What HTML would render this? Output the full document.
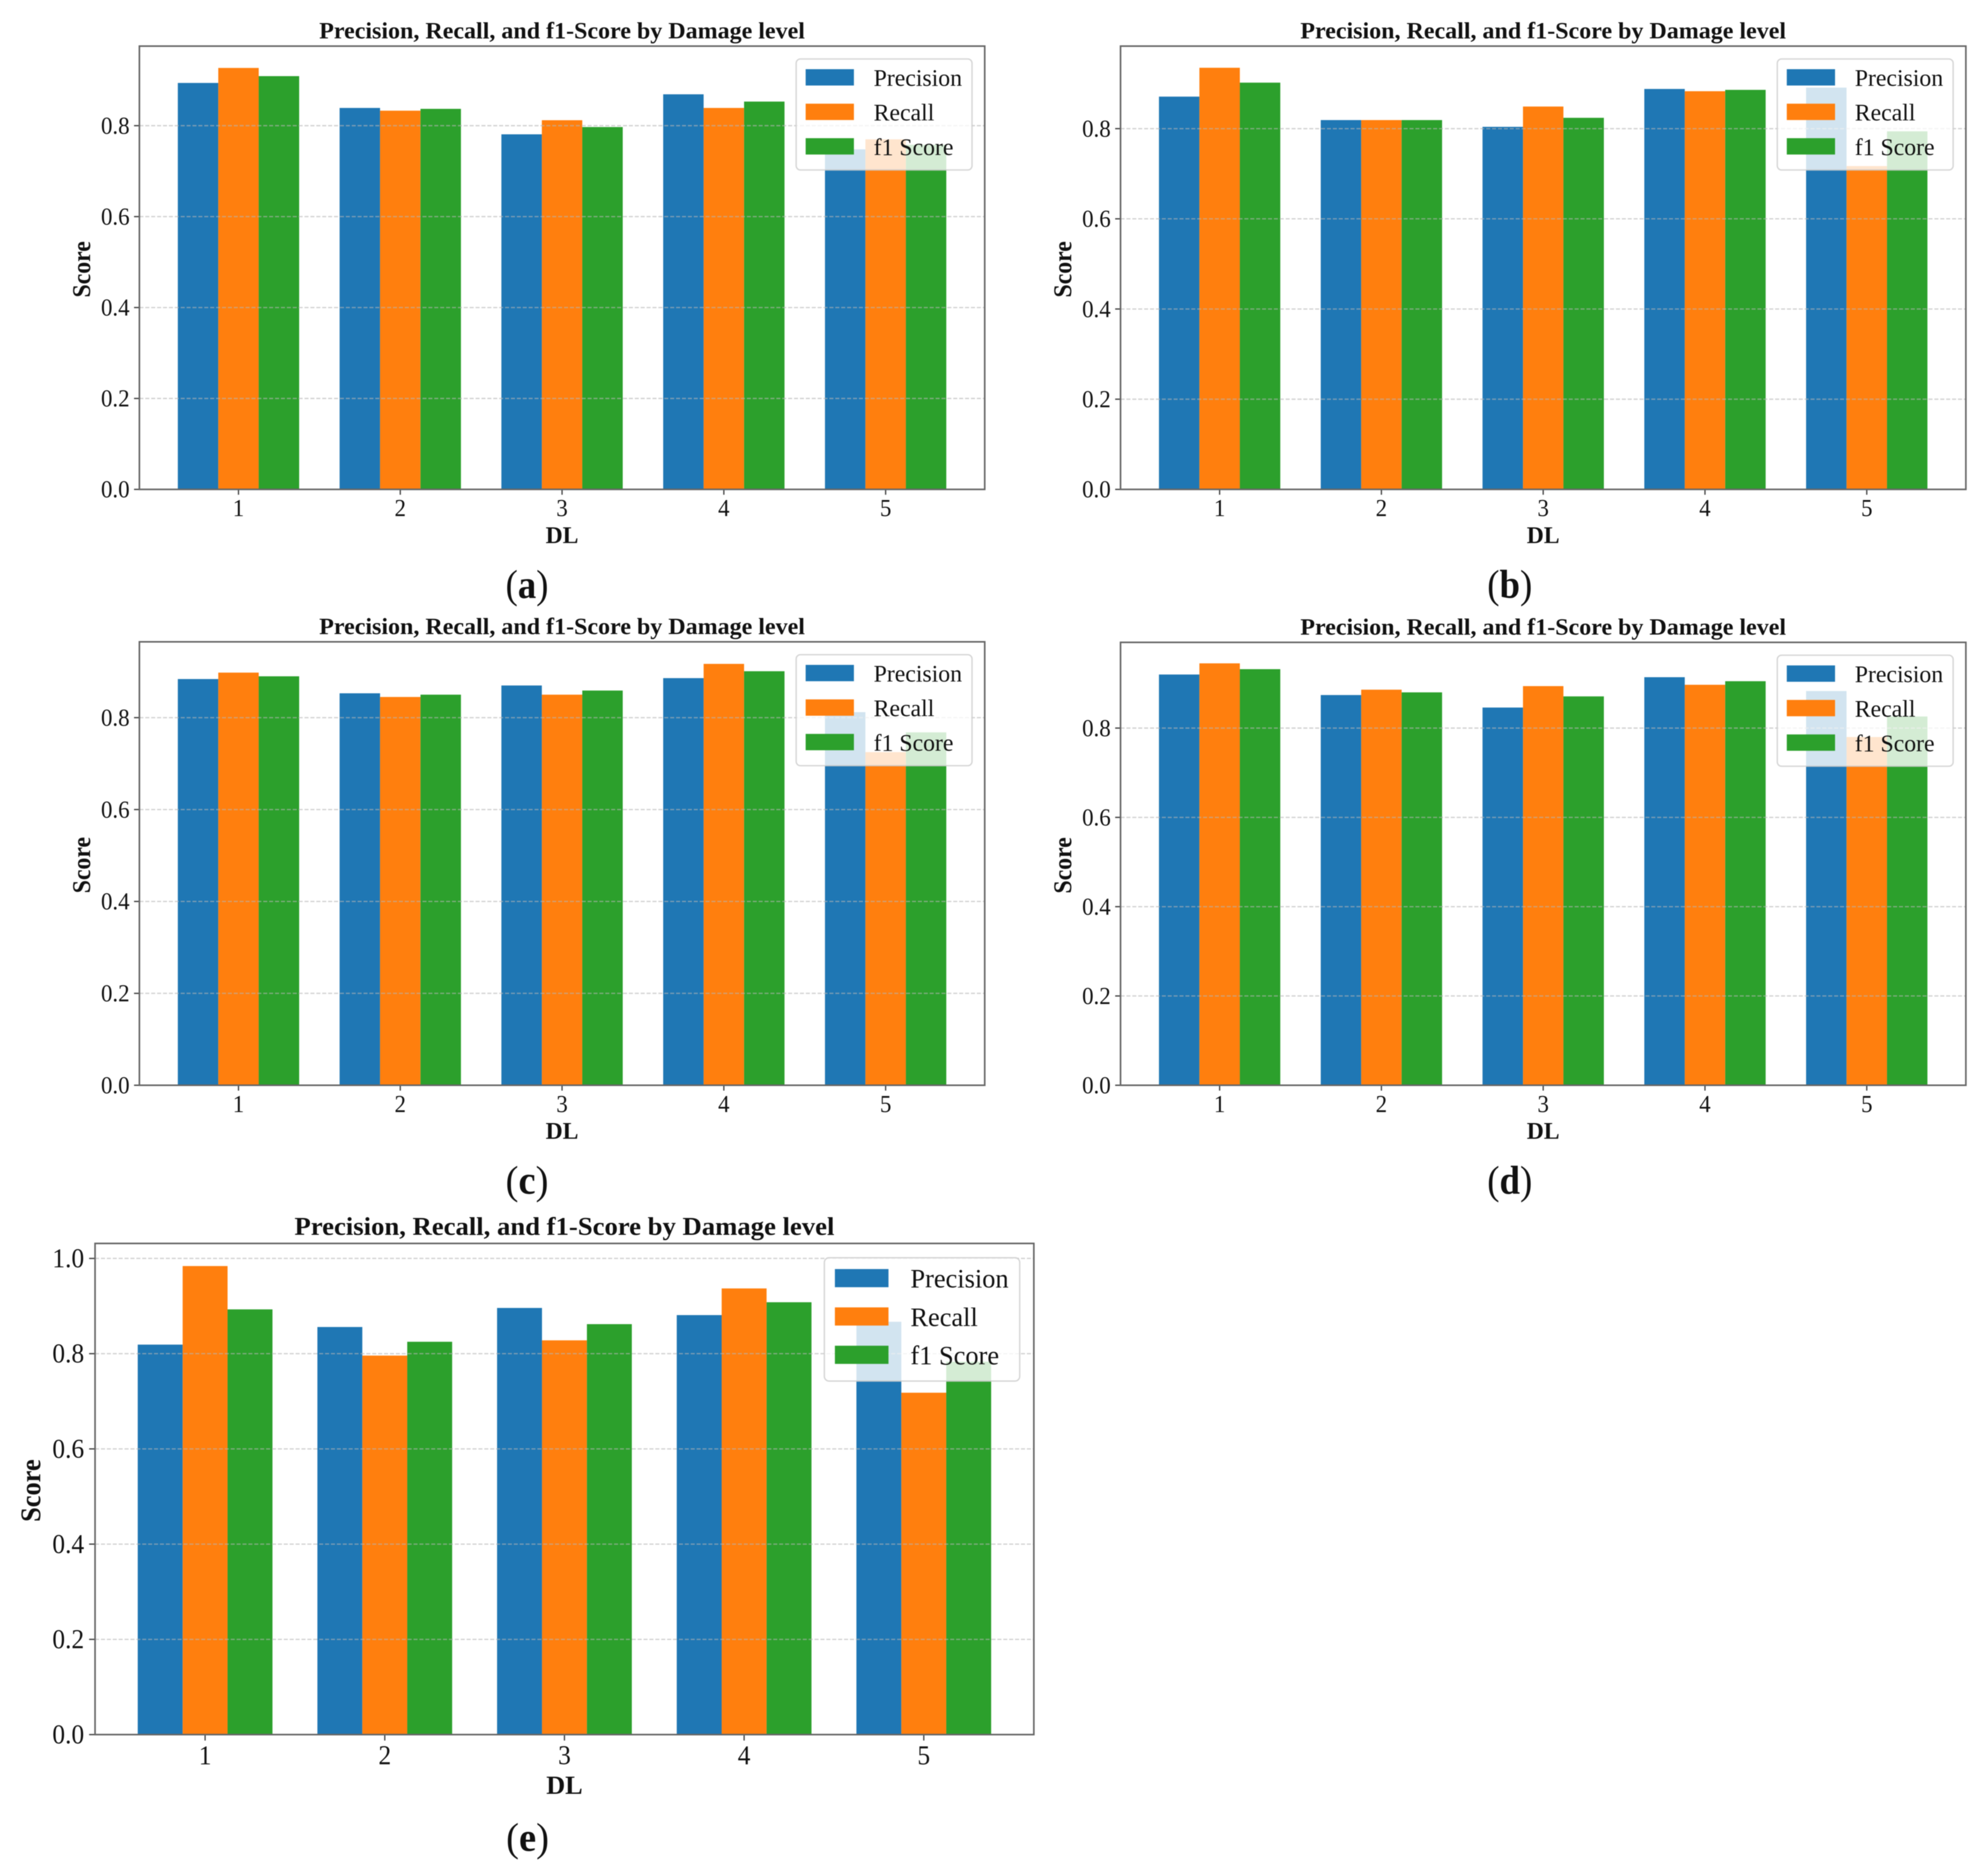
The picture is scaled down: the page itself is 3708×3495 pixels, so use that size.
<!DOCTYPE html>
<html lang="en">
<head>
<meta charset="utf-8">
<title>Precision, Recall, and f1-Score by Damage level</title>
<style>
  html, body { margin: 0; padding: 0; background: #fff; }
  #figure { display: block; filter: blur(0.8px); }
  text { font-family: "Liberation Serif", "Times New Roman", serif; fill: #111; }
</style>
</head>
<body>
<svg id="figure" xmlns="http://www.w3.org/2000/svg" width="3708" height="3495" viewBox="0 0 3708 3495"></svg>
<script>
const categories = [1, 2, 3, 4, 5];
const yTicksShort = [0, 0.2, 0.4, 0.6, 0.8];
const yTicksTall = [0, 0.2, 0.4, 0.6, 0.8, 1.0];
const seriesNames = ['Precision', 'Recall', 'f1 Score'];

const precisionA = [0.894, 0.839, 0.781, 0.869, 0.748];
const recallA = [0.927, 0.833, 0.812, 0.839, 0.770];
const f1A = [0.909, 0.837, 0.797, 0.853, 0.758];

const precisionB = [0.871, 0.819, 0.804, 0.888, 0.891];
const recallB = [0.935, 0.819, 0.849, 0.883, 0.717];
const f1B = [0.902, 0.819, 0.824, 0.886, 0.794];

const precisionC = [0.884, 0.853, 0.870, 0.886, 0.812];
const recallC = [0.898, 0.845, 0.850, 0.917, 0.725];
const f1C = [0.890, 0.850, 0.859, 0.901, 0.768];

const precisionD = [0.920, 0.874, 0.846, 0.914, 0.883];
const recallD = [0.945, 0.886, 0.894, 0.897, 0.780];
const f1D = [0.932, 0.880, 0.871, 0.905, 0.826];

const precisionE = [0.819, 0.856, 0.896, 0.881, 0.867];
const recallE = [0.984, 0.796, 0.828, 0.937, 0.718];
const f1E = [0.893, 0.825, 0.862, 0.908, 0.783];

const seriesColors = ['#1f77b4', '#ff7f0e', '#2ca02c'];
const svg = document.getElementById('figure');
const NS = 'http://www.w3.org/2000/svg';

function make(parent, tag, attrs, content) {
  const el = document.createElementNS(NS, tag);
  for (const key in attrs) el.setAttribute(key, attrs[key]);
  if (content !== undefined) el.textContent = content;
  parent.appendChild(el);
  return el;
}

function tickLength(label, k) {
  return (label.length === 1 ? 0.5 : 1.25) * 42.7 * k;
}

function drawPanel(id, box, yMax, k, titleWidth, yTicks, series) {
  const xMin = 0.3875, xMax = 5.6125, barWidth = 0.25;
  const xAxis = v => box.left + (v - xMin) / (xMax - xMin) * (box.right - box.left);
  const yAxis = v => box.bottom - v / yMax * (box.bottom - box.top);

  const panel = make(svg, 'g', {});
  
  

  // bars
  series.forEach((values, s) => {
    values.forEach((value, i) => {
      const x0 = xAxis(categories[i] + (s - 1) * barWidth - barWidth / 2);
      const x1 = xAxis(categories[i] + (s - 1) * barWidth + barWidth / 2);
      const bar = make(panel, 'rect', { x: x0, y: yAxis(value), width: x1 - x0, height: yAxis(0) - yAxis(value), fill: seriesColors[s] });
      
      
    });
  });

  // horizontal grid and y ticks
  yTicks.forEach(tick => {
    const y = yAxis(tick);
    if (tick > 0) {
      const grid = make(panel, 'line', { x1: box.left, x2: box.right, y1: y, y2: y, stroke: '#b4b4b4', 'stroke-opacity': 0.6, 'stroke-width': 2.4, 'stroke-dasharray': '7.5 3.5' });
      
      
    }
    const mark = make(panel, 'line', { x1: box.left - 10 * k, x2: box.left, y1: y, y2: y, stroke: '#444', 'stroke-width': 2.4 });
    
    
    const text = tick.toFixed(1);
    const label = make(panel, 'text', { x: box.left - 18.3 * k, y: y + 15 * k, 'text-anchor': 'end', 'font-size': 46 * k, textLength: tickLength(text, k), lengthAdjust: 'spacingAndGlyphs' }, text);
    
    
  });

  // x ticks
  categories.forEach(cat => {
    const x = xAxis(cat);
    const mark = make(panel, 'line', { x1: x, x2: x, y1: box.bottom, y2: box.bottom + 10 * k, stroke: '#444', 'stroke-width': 2.4 });
    
    
    const text = String(cat);
    const label = make(panel, 'text', { x: x, y: box.bottom + 50 * k, 'text-anchor': 'middle', 'font-size': 46 * k, textLength: tickLength(text, k), lengthAdjust: 'spacingAndGlyphs' }, text);
    
    
  });

  // spines
  const frame = make(panel, 'rect', { x: box.left, y: box.top, width: box.right - box.left, height: box.bottom - box.top, fill: 'none', stroke: '#666', 'stroke-width': 3 });
  
  

  // title and axis labels
  const cx = (box.left + box.right) / 2;
  const cy = (box.top + box.bottom) / 2 + 3;
  const title = make(panel, 'text', { x: cx, y: box.top - 14.5 * k, 'text-anchor': 'middle', 'font-size': 43 * k, 'font-weight': 'bold', textLength: titleWidth, lengthAdjust: 'spacingAndGlyphs' }, 'Precision, Recall, and f1-Score by Damage level');
  
  

  const xTitle = make(panel, 'text', { x: cx, y: box.bottom + 99.6 * k, 'text-anchor': 'middle', 'font-size': 44 * k, 'font-weight': 'bold' }, 'DL');
  
  

  const yX = box.left - 92 * k;
  const yTitle = make(panel, 'text', { x: yX, y: cy, transform: 'rotate(-90 ' + yX + ' ' + cy + ')', 'text-anchor': 'middle', 'font-size': 48 * k, 'font-weight': 'bold', textLength: 105 * k, lengthAdjust: 'spacingAndGlyphs' }, 'Score');
  
  

  // legend
  const legendX = box.right - (23.7 * k) - 328 * k;
  const legendY = box.top + 24 * k;
  const legend = make(panel, 'g', {});
  
  
  const legendBox = make(legend, 'rect', { x: legendX, y: legendY, width: 328 * k, height: 207 * k, rx: 8 * k, ry: 8 * k, fill: '#fff', 'fill-opacity': 0.8, stroke: '#ccc', 'stroke-opacity': 0.8, 'stroke-width': 2.6 });
  
  
  seriesNames.forEach((name, s) => {
    const swatch = make(legend, 'rect', { x: legendX + 17.7 * k, y: legendY + (19 + 64.35 * s) * k, width: 90 * k, height: 30.5 * k, fill: seriesColors[s] });
    
    
    const entry = make(legend, 'text', { x: legendX + 144.5 * k, y: legendY + (50 + 64.5 * s) * k, 'font-size': 44.3 * k }, name);
    
    
  });
}

function drawCaption(letter, cx, baseline, width) {
  const caption = make(svg, 'text', { x: cx, y: baseline, 'text-anchor': 'middle', 'font-size': 75, textLength: width, lengthAdjust: 'spacingAndGlyphs' });
  
  
  make(caption, 'tspan', {}, '(');
  make(caption, 'tspan', { 'font-weight': 'bold' }, letter);
  make(caption, 'tspan', {}, ')');
}

drawPanel('a', { left: 260, right: 1836.7, top: 86, bottom: 912.7 }, 0.975, 1, 906, yTicksShort, [precisionA, recallA, f1A]);
drawPanel('b', { left: 2090, right: 3666.7, top: 86, bottom: 912.7 }, 0.983, 1, 906, yTicksShort, [precisionB, recallB, f1B]);
drawPanel('c', { left: 260, right: 1836.7, top: 1197, bottom: 2024 }, 0.965, 1, 906, yTicksShort, [precisionC, recallC, f1C]);
drawPanel('d', { left: 2090, right: 3666.7, top: 1198, bottom: 2024 }, 0.992, 1, 906, yTicksShort, [precisionD, recallD, f1D]);
drawPanel('e', { left: 177.3, right: 1928.3, top: 2319, bottom: 3235 }, 1.0315, 1.111, 1007, yTicksTall, [precisionE, recallE, f1E]);

drawCaption('a', 983, 1115, 80);
drawCaption('b', 2816, 1115, 84);
drawCaption('c', 983, 2226.5, 80);
drawCaption('d', 2816, 2226.5, 84);
drawCaption('e', 984, 3452, 80);
</script>
</body>
</html>
